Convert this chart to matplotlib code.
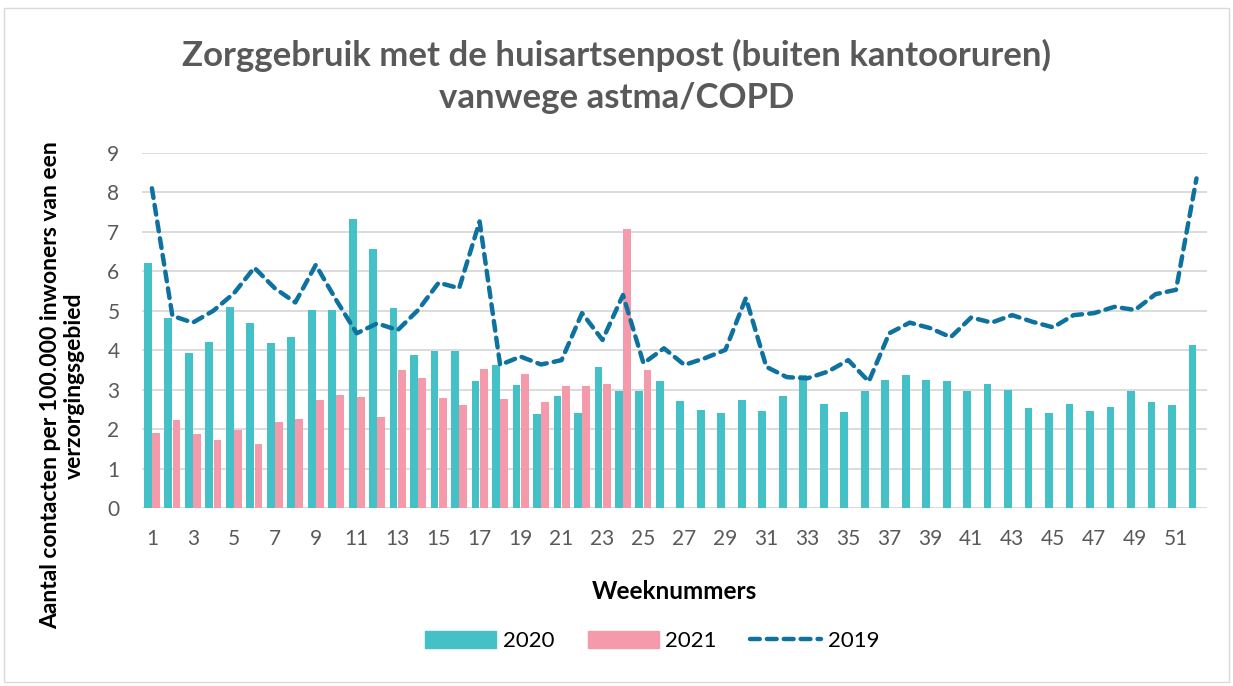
import numpy as np
import matplotlib
matplotlib.use("Agg")
import matplotlib.pyplot as plt
from matplotlib.patches import Patch, Rectangle
from matplotlib.lines import Line2D

plt.rcParams['font.family'] = ['Lato', 'DejaVu Sans']

# Weeks 1..52
weeks = list(range(1, 53))

# Contacts per 100,000 inhabitants, 2020 (all weeks)
y2020 = [6.20, 4.82, 3.93, 4.20, 5.10, 4.70, 4.18, 4.33, 5.01, 5.01,
         7.31, 6.56, 5.08, 3.88, 3.98, 3.98, 3.22, 3.62, 3.11, 2.38,
         2.85, 2.42, 3.58, 2.97, 2.97, 3.22, 2.71, 2.48, 2.40, 2.73,
         2.47, 2.85, 3.37, 2.63, 2.45, 2.98, 3.25, 3.37, 3.25, 3.23,
         2.96, 3.14, 2.99, 2.55, 2.41, 2.63, 2.47, 2.56, 2.97, 2.70,
         2.62, 4.13]

# 2021 (weeks 1..25)
y2021 = [1.91, 2.24, 1.87, 1.72, 1.97, 1.62, 2.18, 2.25, 2.74, 2.87,
         2.81, 2.32, 3.49, 3.31, 2.80, 2.62, 3.53, 2.77, 3.39, 2.68,
         3.10, 3.10, 3.14, 7.08, 3.50]

# 2019 reference line
y2019 = [8.10, 4.87, 4.70, 5.00, 5.44, 6.09, 5.57, 5.21, 6.16, 5.27,
         4.43, 4.68, 4.51, 5.02, 5.71, 5.57, 7.26, 3.63, 3.84, 3.64,
         3.75, 4.94, 4.26, 5.40, 3.67, 4.05, 3.63, 3.80, 4.01, 5.32,
         3.58, 3.32, 3.29, 3.46, 3.75, 3.21, 4.43, 4.70, 4.56, 4.33,
         4.83, 4.70, 4.89, 4.72, 4.58, 4.89, 4.94, 5.10, 5.02, 5.42,
         5.53, 8.35]

xtick_labels = [str(w) for w in range(1, 52, 2)]

c2020 = '#43C1C6'
c2021 = '#F59AAA'
c2019 = '#0E72A0'
grey = '#595959'

fig = plt.figure(figsize=(12.33, 6.86), dpi=100)
fig.patches.append(Rectangle((0.003, 0.006), 0.994, 0.982, transform=fig.transFigure,
                             fill=False, edgecolor='#D9D9D9', linewidth=1))

ax = fig.add_axes([0.1149, 0.259, 0.8638, 0.5184])

x = np.arange(len(weeks))
ax.bar(x[:len(y2020)] - 0.2, y2020, width=0.38, color=c2020, zorder=2)
ax.bar(x[:len(y2021)] + 0.2, y2021, width=0.38, color=c2021, zorder=2)
ax.plot(x, y2019, color=c2019, linestyle=(0, (2.2, 1.6)), linewidth=3.2,
        dash_capstyle='round', zorder=3)

ax.set_xlim(-0.5, len(weeks) - 0.5)
ax.set_ylim(0, 9)
ax.set_yticks(range(0, 10))
ax.set_xticks(x[::2])
ax.set_xticklabels(xtick_labels)
ax.tick_params(axis='both', length=0, labelsize=15, colors=grey)
ax.tick_params(axis='x', pad=15)
ax.tick_params(axis='y', pad=16)
ax.grid(axis='y', color='#D9D9D9', linewidth=1.3, zorder=0)
ax.set_axisbelow(True)
for s in ax.spines.values():
    s.set_visible(False)

ax.set_xlabel('Weeknummers', fontsize=17.5, fontweight='bold', labelpad=22)
fig.text(0.051, 0.438, 'Aantal contacten per 100.000 inwoners van een\nverzorgingsgebied',
         rotation=90, ha='center', va='center', fontsize=16.5, fontweight='bold',
         linespacing=1.15)

fig.text(0.5, 0.889, 'Zorggebruik met de huisartsenpost (buiten kantooruren)\nvanwege astma/COPD',
         ha='center', va='center', fontsize=25, fontweight='bold', color=grey,
         linespacing=1.4)

handles = [Patch(color=c2020, label='2020'),
           Patch(color=c2021, label='2021'),
           Line2D([0], [0], color=c2019, linestyle=(0, (2.2, 1.6)), linewidth=3.2,
                  dash_capstyle='round', label='2019')]
fig.legend(handles=handles, loc='center', bbox_to_anchor=(0.529, 0.066), ncol=3,
           frameon=False, fontsize=16, handlelength=3.2, handleheight=0.8,
           columnspacing=1.5, handletextpad=0.3)

fig.savefig('out.png', dpi=100)
